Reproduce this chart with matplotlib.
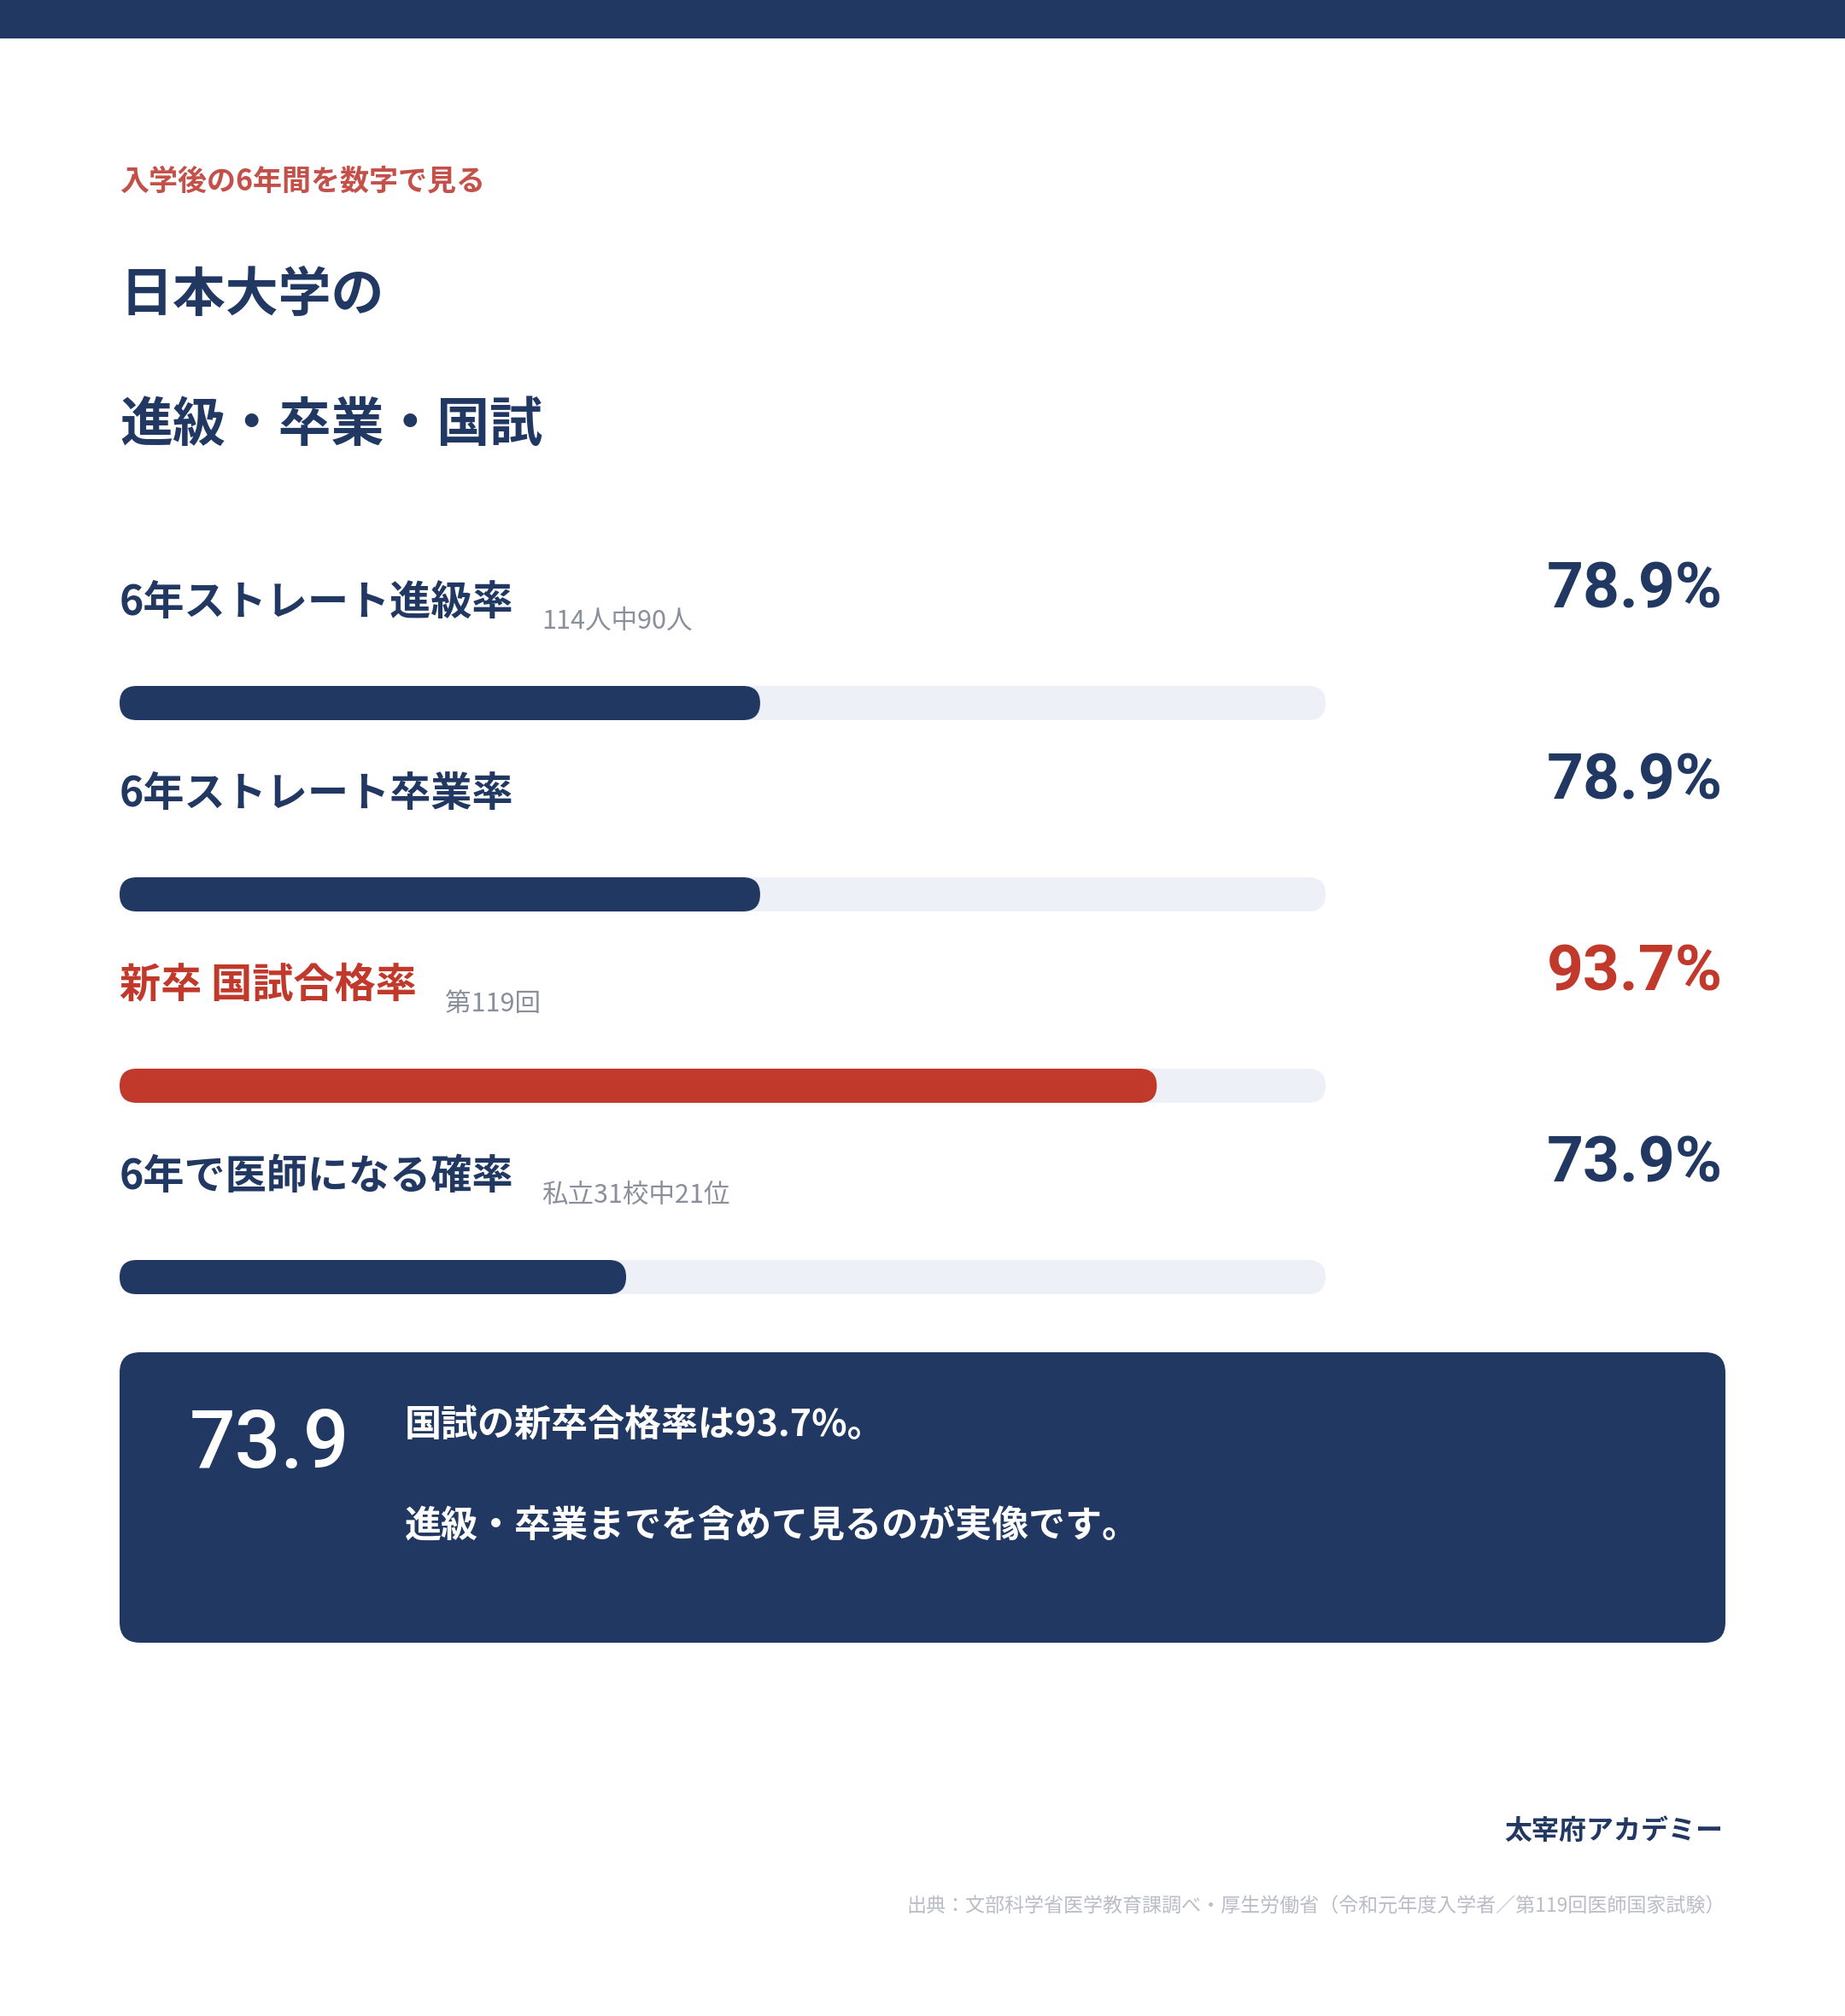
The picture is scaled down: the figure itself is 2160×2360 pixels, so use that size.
import matplotlib
matplotlib.use("Agg")
import matplotlib.pyplot as plt
from matplotlib.patches import Rectangle, FancyBboxPatch
from matplotlib.transforms import IdentityTransform

plt.rcParams['font.family'] = ['Noto Sans CJK JP', 'DejaVu Sans']

# data
labels = ["6年ストレート進級率", "6年ストレート卒業率", "新卒 国試合格率", "6年で医師になる確率"]
notes = ["114人中90人", "", "第119回", "私立31校中21位"]
values = [78.9, 78.9, 93.7, 73.9]
highlight = [False, False, True, False]
bar_min, bar_max = 55, 100

eyebrow = "入学後の6年間を数字で見る"
title_lines = ["日本大学の", "進級・卒業・国試"]
box_number = "73.9"
box_lines = ["国試の新卒合格率は93.7%。", "進級・卒業までを含めて見るのが実像です。"]
brand = "太宰府アカデミー"
source = "出典：文部科学省医学教育課調べ・厚生労働省（令和元年度入学者／第119回医師国家試験）"

NAVY = "#213862"
RED = "#c0392b"
EYEBROW = "#c4504a"
TRACK = "#edf0f7"
GRAY = "#8a909b"
LIGHT = "#b9bdc7"
NUM_FONT = ['Roboto', 'DejaVu Sans']

W, H = 2160, 2360
DPI = 100
fig = plt.figure(figsize=(W / DPI, H / DPI), dpi=DPI)
fig.patch.set_facecolor("white")

ax = fig.add_axes([0, 0, 1, 1])
ax.set_xlim(0, W)
ax.set_ylim(H, 0)
ax.axis("off")

# top band
ax.add_patch(Rectangle((0, 0), W, 45, color=NAVY, lw=0))

ax.text(140, 212, eyebrow, fontsize=24.5, fontweight="bold", color=EYEBROW, va="center")
ax.text(140, 346, title_lines[0], fontsize=44.6, fontweight="bold", color=NAVY, va="center")
ax.text(140, 497, title_lines[1], fontsize=44.6, fontweight="bold", color=NAVY, va="center")

renderer = fig.canvas.get_renderer()
row_gap = 224
bar_h = 40
for i, (lab, note, val, hi) in enumerate(zip(labels, notes, values, highlight)):
    c = RED if hi else NAVY
    ly = 705 + i * row_gap
    t = ax.text(140, ly, lab, fontsize=34.7, fontweight="bold", color=c, va="center")
    if note:
        bb = t.get_window_extent(renderer)
        ax.text(bb.x1 + 33, ly + 22, note, fontsize=22, color=GRAY, va="center")
    ax.text(2017, 712 + i * row_gap, f"{val:.1f}%", fontsize=54, fontweight="bold", color=c,
            va="baseline", ha="right", family=NUM_FONT)

    # bar row axes, track spans 140..1552 px
    by = 823 + i * row_gap
    bax = fig.add_axes([140 / W, 1 - (by + bar_h / 2) / H, 1412 / W, bar_h / H])
    bax.set_xlim(bar_min, bar_max)
    bax.set_ylim(-0.5, 0.5)
    bax.axis("off")
    bars = bax.barh([0, 0], [bar_max - bar_min, val - bar_min], left=bar_min, height=1.0,
                    color=[TRACK, c])
    fig.canvas.draw()
    for r in bars:
        ext = r.get_window_extent(renderer)
        r.set_visible(False)
        fig.add_artist(FancyBboxPatch((ext.x0, ext.y0), ext.width, ext.height,
                                      boxstyle=f"round,pad=0,rounding_size={ext.height / 2}",
                                      transform=IdentityTransform(), facecolor=r.get_facecolor(),
                                      lw=0, zorder=r.get_zorder()))

# summary box
ax.add_patch(FancyBboxPatch((140, 1583), 1880, 340, boxstyle="round,pad=0,rounding_size=24",
                            facecolor=NAVY, lw=0))
ax.text(222, 1718, box_number, fontsize=68, fontweight="medium", color="white",
        va="baseline", family=NUM_FONT)
ax.text(474, 1669, box_lines[0], fontsize=31, fontweight="bold", color="white", va="center")
ax.text(474, 1785, box_lines[1], fontsize=31, fontweight="bold", color="white", va="center")

ax.text(2017, 2144, brand, fontsize=23, fontweight="bold", color=NAVY, va="center", ha="right")
ax.text(2020, 2232, source, fontsize=16.6, color=LIGHT, va="center", ha="right")

fig.savefig("out.png", dpi=DPI, facecolor="white")
